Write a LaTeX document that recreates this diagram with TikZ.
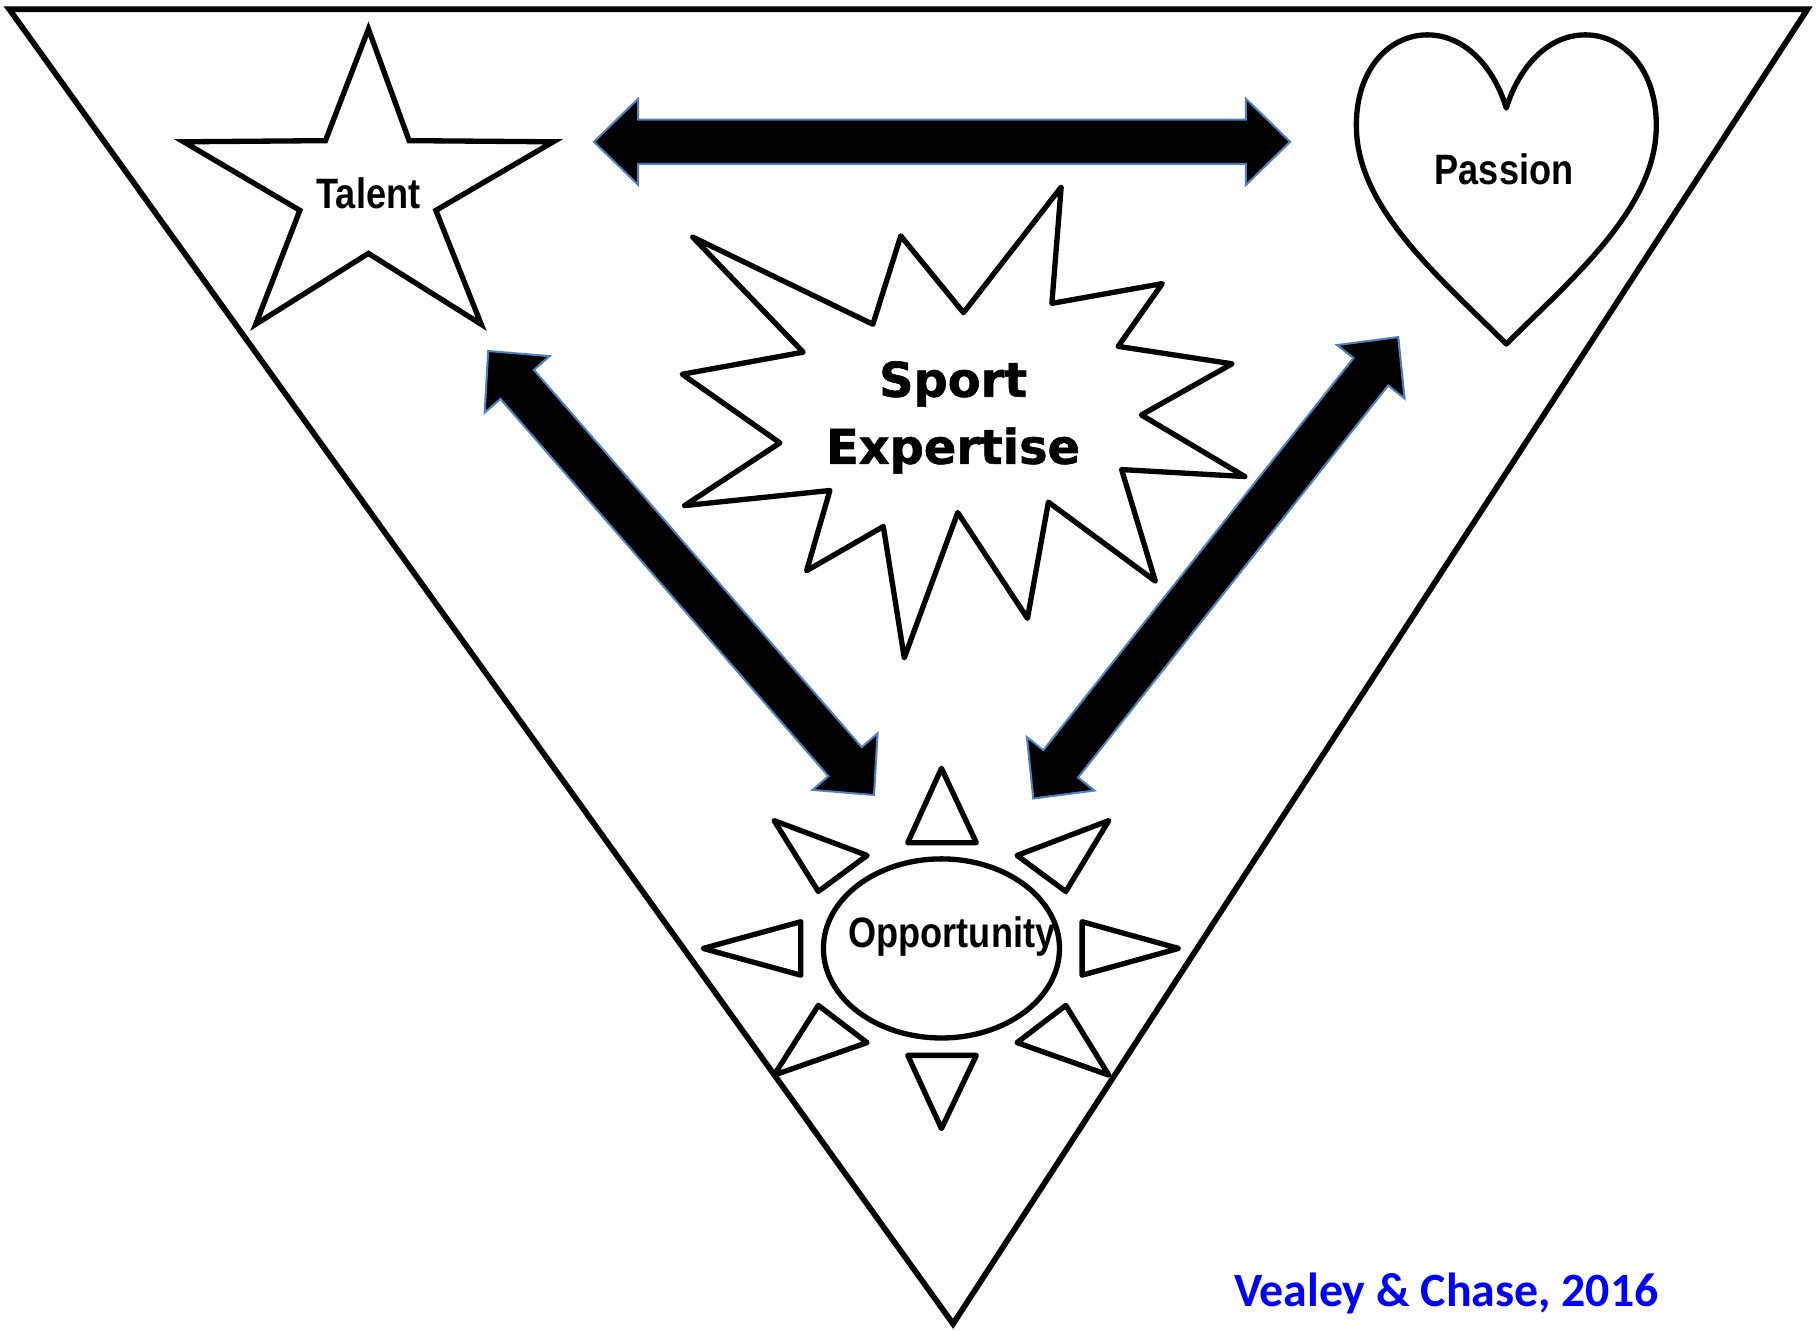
\documentclass[tikz,border=0pt]{standalone}
\usepackage{fontspec}
\setmainfont{Liberation Sans}
\newfontfamily\narrowfont[FakeStretch=0.85]{Liberation Sans}
\newfontfamily\heavyfont[FakeBold=1.2]{DejaVu Sans Bold}
\newfontfamily\creditfont{Carlito}
\usetikzlibrary{shapes.geometric, calc}

\definecolor{arrowblue}{RGB}{79,129,189}
\definecolor{creditblue}{RGB}{0,0,255}

\tikzset{
  shapeline/.style={draw, line width=1.3pt, line join=miter, fill=white},
  ray/.style={draw, line width=1.3pt, line join=round, fill=white},
  block/.style={fill=black, draw=arrowblue, line width=0.5pt},
  word/.style={font=\narrowfont\bfseries\fontsize{10.4}{12}\selectfont, inner sep=0pt, anchor=base},
}

% double block arrow between two named points
\newcommand{\blockarrow}[2]{%
  \filldraw[block] (#1)
    -- ($($(#1)!0.38cm!(#2)$)!0.37cm!90:(#2)$)
    -- ($($(#1)!0.38cm!(#2)$)!0.19cm!90:(#2)$)
    -- ($($(#2)!0.38cm!(#1)$)!0.19cm!-90:(#1)$)
    -- ($($(#2)!0.38cm!(#1)$)!0.37cm!-90:(#1)$)
    -- (#2)
    -- ($($(#2)!0.38cm!(#1)$)!0.37cm!90:(#1)$)
    -- ($($(#2)!0.38cm!(#1)$)!0.19cm!90:(#1)$)
    -- ($($(#1)!0.38cm!(#2)$)!0.19cm!-90:(#2)$)
    -- ($($(#1)!0.38cm!(#2)$)!0.37cm!-90:(#2)$)
    -- cycle;}

\begin{document}
\begin{tikzpicture}[x=0.01cm, y=-0.01cm]
  \useasboundingbox (0,0) rectangle (1565,1145);

  % outer triangle
  \draw[line width=1.4pt, line join=miter] (8,8) -- (1555,8) -- (820,1139) -- cycle;

  % arrow ends
  \coordinate (tal-h) at (511,122);
  \coordinate (pas-h) at (1110,122);
  \coordinate (tal-o) at (420,302);
  \coordinate (opp-t) at (752,684);
  \coordinate (pas-o) at (1203,290);
  \coordinate (opp-p) at (889,687);

  \blockarrow{tal-h}{pas-h}
  \blockarrow{tal-o}{opp-t}
  \blockarrow{pas-o}{opp-p}

  % talent star
  \draw[shapeline] (317,25) -- (352,121) -- (476,122) -- (375,181) -- (414,279) -- (317,218)
    -- (220,279) -- (258,181) -- (158,122) -- (280,121) -- cycle;
  \node (talent) [word] at (317,179) {Talent};

  % passion heart
  \draw[shapeline, line join=round] (1296,296) .. controls (1240,240) and (1168,180) .. (1167,110)
    .. controls (1166,60) and (1195,30) .. (1228,30)
    .. controls (1262,30) and (1286,60) .. (1296,93)
    .. controls (1306,60) and (1330,30) .. (1364,30)
    .. controls (1397,30) and (1426,60) .. (1425,110)
    .. controls (1424,180) and (1352,240) .. (1296,296) -- cycle;
  \node (passion) [word] at (1294,159) {Passion};

  % sport expertise burst
  \draw[shapeline, line join=round] (596,204) -- (751,279) -- (775,203) -- (829,269) -- (913,161)
    -- (905,261) -- (1000,244) -- (962,298) -- (1060,313) -- (982,357) -- (1071,410)
    -- (965,404) -- (994,500) -- (902,432) -- (884,532) -- (824,441) -- (778,566)
    -- (760,453) -- (694,491) -- (714,422) -- (589,435) -- (671,381) -- (587,322)
    -- (691,303) -- cycle;
  \node (expertise) [anchor=base, align=center, inner sep=0pt,
    font=\heavyfont\fontsize{11.7}{16.4}\selectfont] at (820,399) {Sport\\Expertise};

  % opportunity sun
  \draw[ray] (810,661) -- (840,725) -- (781,725) -- cycle;
  \draw[ray] (666,706) -- (746,736) -- (704,767) -- cycle;
  \draw[ray] (954,706) -- (875,736) -- (917,767) -- cycle;
  \draw[ray] (605,816) -- (689,793) -- (689,839) -- cycle;
  \draw[ray] (1014,816) -- (931,793) -- (931,839) -- cycle;
  \draw[ray] (666,925) -- (746,897) -- (704,865) -- cycle;
  \draw[ray] (954,925) -- (875,897) -- (917,865) -- cycle;
  \draw[ray] (810,971) -- (840,908) -- (781,908) -- cycle;
  \node (opportunity) [ellipse, draw, line width=1.3pt, fill=white,
    minimum width=2.03cm, minimum height=1.54cm, inner sep=0pt] at (810,816) {};
  \node (opptext) [word] at (819,815) {Opportunity};

  % credit
  \node (credit) [anchor=base west, inner sep=0pt, text=creditblue,
    font=\creditfont\bfseries\fontsize{11.7}{14}\selectfont] at (1061,1124) {Vealey \& Chase, 2016};
\end{tikzpicture}
\end{document}
